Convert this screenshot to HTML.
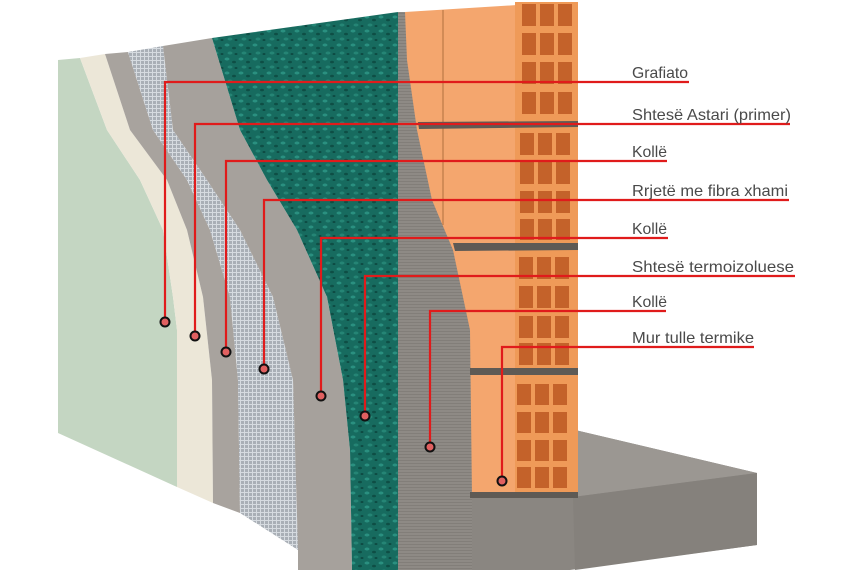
<!DOCTYPE html>
<html><head><meta charset="utf-8"><style>
html,body{margin:0;padding:0;background:#fff;}
svg{display:block;}
text{font-family:"Liberation Sans",sans-serif;font-size:16px;fill:#4a4a4a;}
</style></head><body>
<svg width="855" height="570" viewBox="0 0 855 570" xmlns="http://www.w3.org/2000/svg">
<defs>
<pattern id="mesh" width="4" height="4" patternUnits="userSpaceOnUse">
<rect width="4" height="4" fill="#a9afb6"/>
<path d="M0 0.5H4M0.5 0V4" stroke="#d6dbe0" stroke-width="1"/>
</pattern>
<pattern id="teal" width="14" height="14" patternUnits="userSpaceOnUse">
<rect width="14" height="14" fill="#176b5f"/>
<ellipse cx="3" cy="3" rx="2.5" ry="1.5" fill="#2a9080"/>
<ellipse cx="10" cy="6" rx="2" ry="1.3" fill="#0e4e45"/>
<ellipse cx="6" cy="11" rx="2.5" ry="1.5" fill="#258575"/>
<ellipse cx="12" cy="12" rx="1.5" ry="1" fill="#0d4a42"/>
</pattern>
<pattern id="conc" width="6" height="3" patternUnits="userSpaceOnUse">
<rect width="6" height="3" fill="#8e8a85"/>
<path d="M0 1.5H6" stroke="#7f7b76" stroke-width="0.8"/>
</pattern>
</defs>
<polygon points="575,430 757,473 757,545 570,570 470,570 470,430" fill="#8a8681"/>
<polygon points="575,430 757,473 573,497 515,497" fill="#9b9792"/>
<polygon points="573,497 757,473 757,545 575,570" fill="#85817c"/>
<polygon points="58,60 80,58 107,130 140,180 163,230 173,297 177,330 177,487 58,433" fill="#c4d6c2"/>
<polygon points="80,58 105,54 130,130 167,180 187,230 203,297 212,380 213,503 177,487 177,330 173,297 163,230 140,180 107,130" fill="#ece7d8"/>
<polygon points="105,54 128,52 153,130 187,180 210,230 230,297 238,380 240,513 213,503 212,380 203,297 187,230 167,180 130,130" fill="#a8a39e"/>
<polygon points="128,52 163,46 173,130 207,180 240,230 273,297 293,380 298,550 240,513 238,380 230,297 210,230 187,180 153,130" fill="url(#mesh)"/>
<polygon points="163,46 212,38 240,130 267,180 297,230 327,297 343,380 350,450 352,570 298,570 298,550 293,380 273,297 240,230 207,180 173,130" fill="#a6a19c"/>
<polygon points="212,38 398,12 398,570 352,570 350,450 343,380 327,297 297,230 267,180 240,130" fill="url(#teal)"/>
<rect x="398" y="12" width="74" height="558" fill="url(#conc)"/>
<polygon points="405,12 517,5 517,497 472,497 470,330 453,250 432,200 417,130 407,60" fill="#f4a66e"/>
<line x1="443" y1="10" x2="443" y2="225" stroke="#b0703f" stroke-width="1"/>
<rect x="515" y="2" width="63" height="495" fill="#ef9a58"/>
<g fill="#5e5a55">
<polygon points="418,122 578,121 578,127 419,129"/>
<polygon points="453,243 578,243 578,250 455,251"/>
<polygon points="470,368 578,368 578,375 470,375"/>
<rect x="470" y="492" width="108" height="6"/>
</g>
<g fill="#c4622a">
<rect x="522" y="4" width="14" height="22"/><rect x="540" y="4" width="14" height="22"/><rect x="558" y="4" width="14" height="22"/>
<rect x="522" y="33" width="14" height="22"/><rect x="540" y="33" width="14" height="22"/><rect x="558" y="33" width="14" height="22"/>
<rect x="522" y="62" width="14" height="22"/><rect x="540" y="62" width="14" height="22"/><rect x="558" y="62" width="14" height="22"/>
<rect x="522" y="92" width="14" height="22"/><rect x="540" y="92" width="14" height="22"/><rect x="558" y="92" width="14" height="22"/>
<rect x="520" y="133" width="14" height="22"/><rect x="538" y="133" width="14" height="22"/><rect x="556" y="133" width="14" height="22"/>
<rect x="520" y="162" width="14" height="22"/><rect x="538" y="162" width="14" height="22"/><rect x="556" y="162" width="14" height="22"/>
<rect x="520" y="191" width="14" height="22"/><rect x="538" y="191" width="14" height="22"/><rect x="556" y="191" width="14" height="22"/>
<rect x="520" y="219" width="14" height="21"/><rect x="538" y="219" width="14" height="21"/><rect x="556" y="219" width="14" height="21"/>
<rect x="519" y="257" width="14" height="22"/><rect x="537" y="257" width="14" height="22"/><rect x="555" y="257" width="14" height="22"/>
<rect x="519" y="286" width="14" height="22"/><rect x="537" y="286" width="14" height="22"/><rect x="555" y="286" width="14" height="22"/>
<rect x="519" y="316" width="14" height="22"/><rect x="537" y="316" width="14" height="22"/><rect x="555" y="316" width="14" height="22"/>
<rect x="519" y="343" width="14" height="22"/><rect x="537" y="343" width="14" height="22"/><rect x="555" y="343" width="14" height="22"/>
<rect x="517" y="384" width="14" height="21"/><rect x="535" y="384" width="14" height="21"/><rect x="553" y="384" width="14" height="21"/>
<rect x="517" y="412" width="14" height="21"/><rect x="535" y="412" width="14" height="21"/><rect x="553" y="412" width="14" height="21"/>
<rect x="517" y="440" width="14" height="21"/><rect x="535" y="440" width="14" height="21"/><rect x="553" y="440" width="14" height="21"/>
<rect x="517" y="467" width="14" height="21"/><rect x="535" y="467" width="14" height="21"/><rect x="553" y="467" width="14" height="21"/>
</g>
<g stroke="#e01b1b" stroke-width="2.2" fill="none">
<polyline points="165,322 165,82 689,82"/>
<polyline points="195,336 195,124 790,124"/>
<polyline points="226,352 226,161 667,161"/>
<polyline points="264,369 264,200 789,200"/>
<polyline points="321,396 321,238 668,238"/>
<polyline points="365,416 365,276 795,276"/>
<polyline points="430,447 430,311 666,311"/>
<polyline points="502,481 502,347 754,347"/>
</g>
<g stroke="#111" stroke-width="2" fill="#e06060">
<circle cx="165" cy="322" r="4.5"/><circle cx="195" cy="336" r="4.5"/>
<circle cx="226" cy="352" r="4.5"/><circle cx="264" cy="369" r="4.5"/>
<circle cx="321" cy="396" r="4.5"/><circle cx="365" cy="416" r="4.5"/>
<circle cx="430" cy="447" r="4.5"/><circle cx="502" cy="481" r="4.5"/>
</g>
<text x="632" y="78" textLength="56" lengthAdjust="spacingAndGlyphs">Grafiato</text>
<text x="632" y="120" textLength="159" lengthAdjust="spacingAndGlyphs">Shtesë Astari (primer)</text>
<text x="632" y="157" textLength="35" lengthAdjust="spacingAndGlyphs">Kollë</text>
<text x="632" y="196" textLength="156" lengthAdjust="spacingAndGlyphs">Rrjetë me fibra xhami</text>
<text x="632" y="234" textLength="35" lengthAdjust="spacingAndGlyphs">Kollë</text>
<text x="632" y="272" textLength="162" lengthAdjust="spacingAndGlyphs">Shtesë termoizoluese</text>
<text x="632" y="307" textLength="35" lengthAdjust="spacingAndGlyphs">Kollë</text>
<text x="632" y="343" textLength="122" lengthAdjust="spacingAndGlyphs">Mur tulle termike</text>
</svg>
</body></html>
